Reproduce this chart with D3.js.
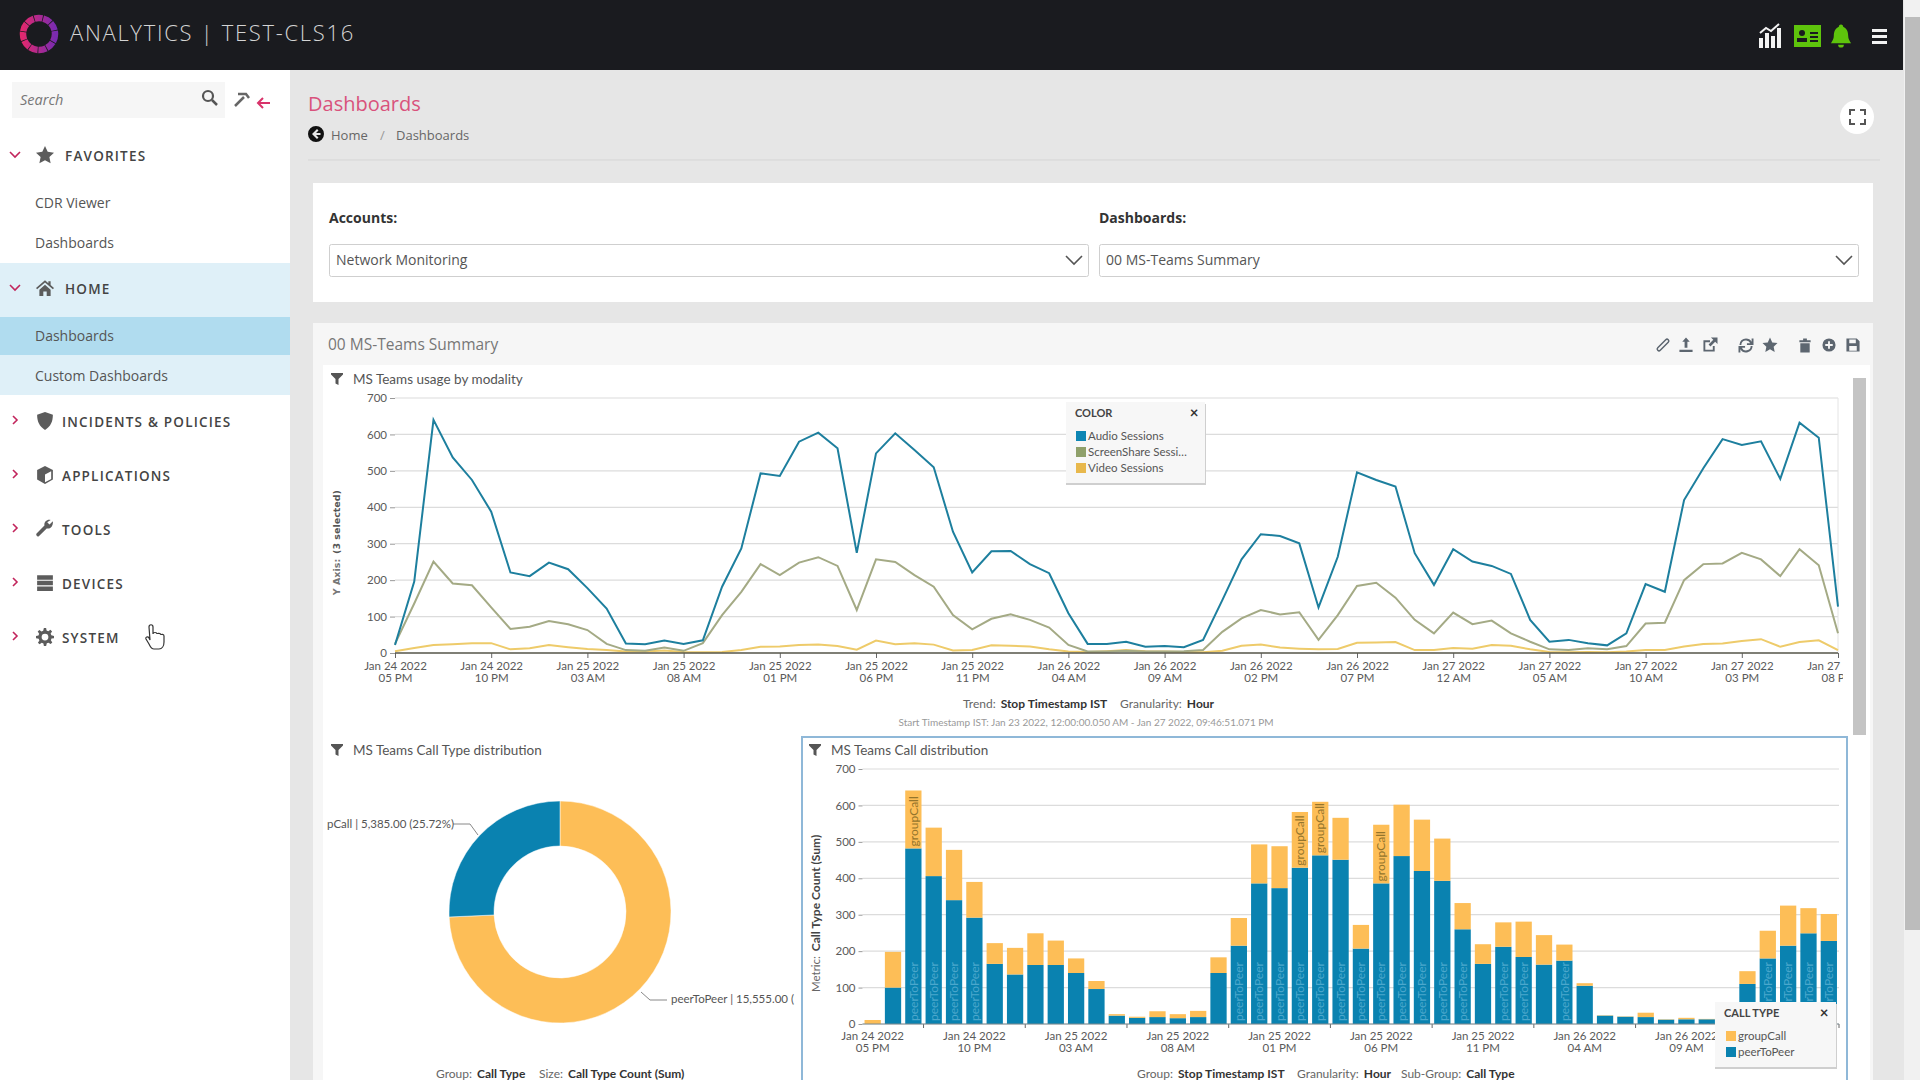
<!DOCTYPE html>
<html>
<head>
<meta charset="utf-8">
<title>Analytics | TEST-CLS16</title>
<script src="https://cdn.jsdelivr.net/npm/d3@7/dist/d3.min.js"></script>
<style>
	html, body { margin: 0; padding: 0; background: #e6e6e6; overflow: hidden; }
	svg { display: block; font-family: "Open Sans", sans-serif; }
	.chartText { font-family: Lato, sans-serif; }
	.axis path { display: none; }
	.axis text { font-family: Lato, sans-serif; font-size: 11.5px; fill: #5a5a5a; }
</style>
</head>
<body>
<div id="svgContainer"></div>
<script>

/* ---------------
Data
--------------- */
var audioSessions = [22,196,640,537,475,388,221,211,248,230,178,122,26,24,34,25,35,182,287,493,486,580,605,562,275,548,603,557,510,333,221,279,280,244,219,109,25,25,31,17,19,16,36,145,257,326,321,301,125,264,496,475,457,274,187,285,251,239,217,91,31,36,27,21,54,189,168,420,507,587,571,581,478,632,591,127];
var screenShareSessions = [25,136,251,191,186,125,66,72,88,79,63,25,8,6,15,6,27,104,168,244,214,248,263,239,118,257,250,214,182,104,65,94,106,91,70,22,4,4,6,4,4,5,8,58,95,118,106,112,36,104,184,193,152,91,54,111,79,89,54,31,10,8,13,10,19,81,83,200,244,246,275,257,211,285,241,54];
var videoSessions = [5,14,22,24,27,27,10,13,22,16,11,8,4,4,7,3,2,3,8,17,18,22,23,19,9,34,24,27,23,7,8,21,20,18,10,4,3,5,8,5,4,3,2,6,20,23,15,12,10,11,28,29,30,8,8,14,12,22,20,10,3,2,3,2,4,8,8,18,25,26,33,38,17,30,35,8];
var lineTickDates = ["Jan 24 2022","Jan 24 2022","Jan 25 2022","Jan 25 2022","Jan 25 2022","Jan 25 2022","Jan 25 2022","Jan 26 2022","Jan 26 2022","Jan 26 2022","Jan 26 2022","Jan 27 2022","Jan 27 2022","Jan 27 2022","Jan 27 2022","Jan 27 2022"];
var lineTickTimes = ["05 PM","10 PM","03 AM","08 AM","01 PM","06 PM","11 PM","04 AM","09 AM","02 PM","07 PM","12 AM","05 AM","10 AM","03 PM","08 PM"];
var yTicks = [0,100,200,300,400,500,600,700];

var peerToPeer = [0,100,482,406,340,292,165,136,162,162,140,96,23,17,19,16,19,140,215,386,373,429,463,451,207,386,461,420,393,260,165,212,184,163,174,105,23,20,19,12,13,13,13,110,180,215,249,228];
var groupCall = [11,98,159,133,138,98,57,73,87,67,40,22,4,3,16,11,17,43,76,107,115,153,147,115,65,161,141,141,116,72,54,67,97,81,44,7,1,1,12,1,4,1,1,35,76,110,69,74];
var peerLabelBars = [2,3,4,5,18,19,20,21,22,23,24,25,26,27,28,29,31,32,34,44,45,46,47];
var groupLabelBars = [2,21,22,25];
var barTickDates = ["Jan 24 2022","Jan 24 2022","Jan 25 2022","Jan 25 2022","Jan 25 2022","Jan 25 2022","Jan 25 2022","Jan 26 2022","Jan 26 2022"];
var barTickTimes = ["05 PM","10 PM","03 AM","08 AM","01 PM","06 PM","11 PM","04 AM","09 AM"];

var donutCategories = ["peerToPeer","groupCall"];
var donutValues = [15555,5385];
var donutLabels = ["peerToPeer | 15,555.00 (","pCall | 5,385.00 (25.72%)"];

var colorBlue = "#0a82b0", colorYellow = "#fdbe57";

/* ---------------
Viewport
--------------- */
var bWidth = 1920, bHeight = 1080;
var svg = d3.select("#svgContainer").append("svg")
	.attr("width", bWidth)
	.attr("height", bHeight)
	.attr("viewBox", "0 0 1920 1080");

var defs = svg.append("defs");
var logoGradient = defs.append("linearGradient").attr("id", "logoGrad");
logoGradient.append("stop").attr("offset", "0%").attr("stop-color", "#e0286f");
logoGradient.append("stop").attr("offset", "100%").attr("stop-color", "#7a2bb0");
defs.append("clipPath").attr("id", "lineClip").append("rect")
	.attr("x", 340).attr("y", 380).attr("width", 1503).attr("height", 330);

function box(x, y, w, h, fill) {
	return svg.append("rect").attr("x", x).attr("y", y).attr("width", w).attr("height", h).attr("fill", fill);
}

function label(parent, x, y, txt, size, fill, opts) {
	opts = opts || {};
	return parent.append("text")
		.attr("x", x).attr("y", y)
		.attr("dy", "0.35em")
		.attr("class", opts.chart ? "chartText" : null)
		.attr("text-anchor", opts.anchor || "start")
		.attr("font-size", size)
		.attr("font-weight", opts.weight || 400)
		.attr("font-style", opts.italic ? "italic" : null)
		.attr("letter-spacing", opts.spacing || null)
		.attr("fill", fill)
		.text(txt);
}

// crude icons, all in a 16x16 box
var icons = {
	star: "M8 0l2.4 5.2 5.6.7-4.1 3.9 1.1 5.6L8 12.6l-5 2.8 1.1-5.6L0 5.9l5.6-.7z",
	home: "M8 1L0 8l1 1 7-6 7 6 1-1-3-2.6V2h-2v1.7zM3 9.5V15h3.5v-4h3v4H13V9.5L8 5z",
	shield: "M8 0l7 2.5c0 6-2 10.500-7 13.500C3 13 1 8.500 1 2.500z",
	cube: "M8 0l7 3.500v8.500l-7 4-7-4V3.500zM8 7.500v7l5.500-3V4.700z",
	wrench: "M15 1l-3 3-2-2 3-2c-3-.8-6 1.500-5.500 4.800L.5 12c-1 1 .5 3.300 2 2.500l7-7c3 .8 6-2 5.500-6.500z",
	devices: "M1 1h14v4H1zM1 6h14v4H1zM1 11h14v4H1z",
	gear: "M7 0h2l.4 2.200 1.500.6L12.800 1.500l1.500 1.500-1.300 1.900.6 1.500L16 7v2l-2.200.4-.6 1.500 1.300 1.900-1.500 1.500-1.900-1.300-1.500.6L9 16H7l-.4-2.200-1.500-.6-1.900 1.300-1.500-1.500 1.300-1.900-.6-1.500L0 9V7l2.200-.4.6-1.500L1.500 3.200 3 1.700l1.900 1.300 1.500-.6zM8 5a3 3 0 100 6 3 3 0 000-6z",
	funnel: "M0 0h16v2L10 8v8l-4-2V8L0 2z",
	trash: "M2 3h12v2H2zM6 1h4v2H6zM3 6h10v10H3z",
	save: "M1 1h11l3 3v11H1zM4 2v4h7V2zM4 9v5h8V9z",
	bell: "M8 0c1 0 1.500.7 1.500 1.500C12 2.500 13 5 13 8c0 2 1 3.500 2 5H1c1-1.500 2-3 2-5 0-3 1-5.500 3.500-6.500C6.500.7 7 0 8 0zM6 14h4a2 2 0 01-4 0z",
	plus: "M8 1a7 7 0 100 14A7 7 0 008 1zm-1 3h2v3h3v2H9v3H7V9H4V7h3z",
	upload: "M8 0l4 4.500H9.500V11h-3V4.500H4zM1 13h14v2.500H1z",
	external: "M1 3h7v2H3v8h8V9h2v6H1zM9 0h7v7l-2.500-2.500-5 5-2-2 5-5z",
	refresh: "M8 1a7 7 0 016 3.500V1h2v7h-7V6h3.500A5 5 0 003 8H1a7 7 0 017-7zm-8 8h7v2H3.500A5 5 0 0013 9h2a7 7 0 01-13 3.500V16H0z",
	arrowLeft: "M8 0a8 8 0 110 16A8 8 0 018 0zm1 3L4 8l5 5 1.500-1.500L8 9h4.500V7H8l2.500-2.500z"
};

function icon(name, cx, cy, size, fill) {
	return svg.append("path")
		.attr("d", icons[name])
		.attr("transform", "translate(" + (cx - size / 2) + "," + (cy - size / 2) + ") scale(" + size / 16 + ")")
		.attr("fill", fill);
}

/* ---------------
Page frame
--------------- */
box(0, 0, bWidth, bHeight, "#e6e6e6");
box(0, 0, 1903, 70, "#1a1b1f");
box(1904, 0, 16, bHeight, "#f1f1f1");
box(1905, 17, 15, 913, "#bcbcbc");

svg.append("circle").attr("cx", 39).attr("cy", 34).attr("r", 16)
	.attr("fill", "none").attr("stroke", "url(#logoGrad)").attr("stroke-width", 6.500).attr("stroke-dasharray", "8 0.800");
label(svg, 70, 33, "ANALYTICS | TEST-CLS16", 22, "#d4d4d4", { spacing: "1.700px" }).attr("font-weight", 300);

// right side of the header
svg.append("g").attr("transform", "translate(1759,24)").selectAll("rect")
	.data([[0,14,4,10],[6,9,4,15],[12,12,4,12],[18,4,4,20]])
	.enter().append("rect")
	.attr("x", function(d) { return d[0]; }).attr("y", function(d) { return d[1]; })
	.attr("width", function(d) { return d[2]; }).attr("height", function(d) { return d[3]; })
	.attr("fill", "#f2f2f2");
svg.append("path").attr("d", "M1760 33l6-5 5 3 8-7").attr("stroke", "#f2f2f2").attr("stroke-width", 2).attr("fill", "none");
box(1794, 25, 27, 22, "#5ec40c");
svg.append("circle").attr("cx", 1802).attr("cy", 33).attr("r", 3).attr("fill", "#1a1b1f");
box(1797, 38, 10, 4, "#1a1b1f");
box(1810, 32, 8, 2, "#1a1b1f"); box(1810, 36, 8, 2, "#1a1b1f"); box(1810, 40, 8, 2, "#1a1b1f");
icon("bell", 1841, 36, 23, "#5ec40c");
box(1872, 29, 15, 3, "#f2f2f2"); box(1872, 35, 15, 3, "#f2f2f2"); box(1872, 41, 15, 3, "#f2f2f2");

/* ---------------
Sidebar
--------------- */
box(0, 70, 290, 1010, "#ffffff");
box(0, 263, 290, 132, "#dff0f8");
box(0, 317, 290, 38, "#b0dcef");
box(12, 82, 213, 36, "#f6f6f6");
label(svg, 20, 100, "Search", 14.500, "#777", { italic: true });
svg.append("circle").attr("cx", 208).attr("cy", 96).attr("r", 5).attr("fill", "none").attr("stroke", "#555").attr("stroke-width", 2.200);
svg.append("path").attr("d", "M212 100l5 5").attr("stroke", "#555").attr("stroke-width", 2.500);
svg.append("path").attr("d", "M235 106l9-9M238 94l8 0 3 4").attr("stroke", "#666").attr("stroke-width", 2.500).attr("fill", "none");
svg.append("path").attr("d", "M270 103h-12m5-5l-5 5 5 5").attr("stroke", "#d8336a").attr("stroke-width", 2).attr("fill", "none");

var menuTop = [
	{ t: "FAVORITES", y: 156, i: "star", open: true },
	{ t: "HOME", y: 289, i: "home", open: true },
	{ t: "INCIDENTS & POLICIES", y: 422, i: "shield" },
	{ t: "APPLICATIONS", y: 476, i: "cube" },
	{ t: "TOOLS", y: 530, i: "wrench" },
	{ t: "DEVICES", y: 584, i: "devices" },
	{ t: "SYSTEM", y: 638, i: "gear" }
];
menuTop.forEach(function(m) {
	label(svg, m.i === "star" || m.i === "home" ? 65 : 62, m.y, m.t, 13.500, "#444", { weight: 600, spacing: "1.200px" });
	icon(m.i, 45, m.y - 1, 18, "#5c5c5c");
	svg.append("path")
		.attr("d", m.open ? "M10 " + (m.y - 4) + "l5 5 5-5" : "M13 " + (m.y - 6) + "l4 4-4 4")
		.attr("stroke", "#c2255c").attr("stroke-width", 1.600).attr("fill", "none");
});
[["CDR Viewer",203],["Dashboards",243],["Dashboards",336],["Custom Dashboards",376]].forEach(function(m) {
	label(svg, 35, m[1], m[0], 14, "#555");
});

// hand cursor
svg.append("path")
	.attr("transform", "translate(-3,0)")
	.attr("d", "M152 627c0-3 4-3 4 0v7c0-2 4-2 4 0 0-1 4-1 4 1 0-1 3-1 3 1v6c0 4-2 7-5 7h-5c-3 0-4-3-5-5l-3-5c-1-2 2-3 3-1l1 2z")
	.attr("fill", "#fff").attr("stroke", "#333").attr("stroke-width", 1.200);

/* ---------------
Page heading and selectors
--------------- */
label(svg, 308, 104, "Dashboards", 20, "#d9527c");
icon("arrowLeft", 316, 134, 16, "#111");
label(svg, 331, 135, "Home", 13, "#666");
label(svg, 380, 135, "/", 13, "#999");
label(svg, 396, 135, "Dashboards", 13, "#666");
svg.append("line").attr("x1", 308).attr("x2", 1880).attr("y1", 160).attr("y2", 160).attr("stroke", "#d5d5d5");
svg.append("circle").attr("cx", 1857).attr("cy", 117).attr("r", 17).attr("fill", "#fff");
svg.append("path").attr("d", "M1852 116v-5h5M1862 111h5v5M1867 120v5h-5M1857 125h-5v-5").attr("transform", "translate(-2,-1)")
	.attr("stroke", "#555").attr("stroke-width", 2).attr("fill", "none");

box(313, 183, 1560, 119, "#ffffff");
label(svg, 329, 218, "Accounts:", 14, "#333", { weight: 700 });
label(svg, 1099, 218, "Dashboards:", 14, "#333", { weight: 700 });
[[329,759,"Network Monitoring"],[1099,759,"00 MS-Teams Summary"]].forEach(function(s) {
	svg.append("rect").attr("x", s[0] + 0.500).attr("y", 244.500).attr("width", s[1]).attr("height", 32)
		.attr("fill", "#fff").attr("stroke", "#cfcfcf").attr("rx", 2);
	label(svg, s[0] + 7, 260, s[2], 14, "#555");
	svg.append("path").attr("d", "M" + (s[0] + s[1] - 22) + " 256l8 8 8-8").attr("stroke", "#555").attr("stroke-width", 1.600).attr("fill", "none");
});

/* ---------------
Dashboard panel
--------------- */
box(313, 323, 1560, 757, "#f6f6f6");
box(323, 365, 1547, 715, "#ffffff");
box(1853, 378, 13, 357, "#c4c4c4");
label(svg, 328, 345, "00 MS-Teams Summary", 15.500, "#777");
[["upload",1686],["external",1710],["refresh",1746],["star",1770],["trash",1805],["plus",1829],["save",1853]].forEach(function(b) {
	icon(b[0], b[1], 345, 15, "#5d6670");
});
// link icon
svg.append("path").attr("d", "M1659 349l8-8").attr("stroke", "#5d6670").attr("stroke-width", 5).attr("stroke-linecap", "round");
svg.append("path").attr("d", "M1659 349l8-8").attr("stroke", "#f6f6f6").attr("stroke-width", 2).attr("stroke-linecap", "round");

function chartTitle(x, y, txt) {
	icon("funnel", x, y, 12, "#555");
	label(svg, x + 16, y, txt, 13.500, "#555", { chart: true });
}

// small helper for the two line date/time tick labels
function twoLineTicks(axisG, dates, times) {
	axisG.selectAll(".tick text").each(function(d, i) {
		var t = d3.select(this).text(null);
		t.append("tspan").attr("x", 0).attr("dy", "0.71em").text(dates[i]);
		t.append("tspan").attr("x", 0).attr("dy", "1.05em").text(times[i]);
	});
}

function footerLabel(y, parts) {
	var t = svg.append("text").attr("class", "chartText").attr("y", y).attr("dy", "0.35em").attr("font-size", 12);
	parts.forEach(function(p, i) {
		t.append("tspan").attr("x", p.x).attr("fill", "#666").text(p.k);
		t.append("tspan").attr("dx", 5).attr("fill", "#333").attr("font-weight", 700).text(p.v);
	});
}

/* ---------------
MS Teams usage by modality
--------------- */
chartTitle(337, 379, "MS Teams usage by modality");

var lineX = d3.scaleLinear().domain([0, 75]).range([395, 1838]);
var lineY = d3.scaleLinear().domain([0, 700]).range([653, 398]);

svg.append("g").selectAll("line").data(yTicks).enter().append("line")
	.attr("x1", lineX(0)).attr("x2", lineX(75))
	.attr("y1", function(d) { return lineY(d); }).attr("y2", function(d) { return lineY(d); })
	.attr("stroke", "#dcdcdc").attr("stroke-width", 1.200);
svg.append("line").attr("x1", lineX(75)).attr("x2", lineX(75)).attr("y1", lineY(700)).attr("y2", lineY(0)).attr("stroke", "#e4e4e4");

svg.append("g").attr("class", "axis").attr("transform", "translate(" + lineX(0) + ",0)")
	.call(d3.axisLeft(lineY).tickValues(yTicks).tickSize(5).tickPadding(3))
	.selectAll("line").attr("stroke", "#999");

var lineAxis = svg.append("g").attr("class", "axis").attr("clip-path", "url(#lineClip)")
	.append("g").attr("transform", "translate(0," + lineY(0) + ")")
	.call(d3.axisBottom(lineX).tickValues(d3.range(0, 76, 5)).tickSize(5).tickPadding(4));
lineAxis.selectAll("line").attr("stroke", "#666");
twoLineTicks(lineAxis, lineTickDates, lineTickTimes);

var lineSeries = [
	{ values: videoSessions, color: "#eecb6a" },
	{ values: screenShareSessions, color: "#a4aa85" },
	{ values: audioSessions, color: "#1d7f9e" }
];
var linePath = d3.line()
	.x(function(d, i) { return lineX(i); })
	.y(function(d) { return lineY(d); });
svg.append("g").selectAll("path").data(lineSeries).enter().append("path")
	.attr("d", function(d) { return linePath(d.values); })
	.attr("fill", "none")
	.attr("stroke", function(d) { return d.color; })
	.attr("stroke-width", 2);
svg.append("line").attr("x1", lineX(0)).attr("x2", lineX(75)).attr("y1", lineY(0)).attr("y2", lineY(0)).attr("stroke", "#5a5a4e").attr("stroke-width", 1.300);

label(svg, 0, 0, "Y Axis:", 9.500, "#777", { weight: 700 }).attr("font-family", "DejaVu Sans").attr("transform", "translate(337,577) rotate(-90)").attr("text-anchor", "middle");
label(svg, 0, 0, "(3 selected)", 9.500, "#555", { weight: 700 }).attr("font-family", "DejaVu Sans").attr("transform", "translate(337,522) rotate(-90)").attr("text-anchor", "middle");

footerLabel(704, [{ x: 963, k: "Trend:", v: "Stop Timestamp IST" }, { x: 1120, k: "Granularity:", v: "Hour" }]);
label(svg, 1086, 722, "Start Timestamp IST: Jan 23 2022, 12:00:00.050 AM - Jan 27 2022, 09:46:51.071 PM", 10, "#999", { chart: true, anchor: "middle" });

function legendBox(x, y, w, h, title, closeX, items, textX, swatchX) {
	svg.append("rect").attr("x", x).attr("y", y + 2).attr("width", w + 1).attr("height", h).attr("fill", "#cfcfcf");
	svg.append("rect").attr("x", x).attr("y", y).attr("width", w).attr("height", h).attr("fill", "#f7f7f7");
	label(svg, x + 9, y + 11, title, 11, "#444", { chart: true, weight: 700 });
	label(svg, closeX, y + 11, "×", 15, "#333", { chart: true, weight: 700, anchor: "middle" });
	items.forEach(function(it) {
		svg.append("rect").attr("x", swatchX).attr("y", it.y - 5).attr("width", 10).attr("height", 10).attr("fill", it.c);
		label(svg, textX, it.y, it.t, 11.500, "#555", { chart: true });
	});
}
legendBox(1066, 402, 139, 81, "COLOR", 1194, [
	{ t: "Audio Sessions", y: 436, c: "#0e86b4" },
	{ t: "ScreenShare Sessi…", y: 452, c: "#8fa06a" },
	{ t: "Video Sessions", y: 468, c: "#e8b84c" }
], 1088, 1076);

/* ---------------
MS Teams Call Type distribution
--------------- */
chartTitle(337, 750, "MS Teams Call Type distribution");

var pie = d3.pie().sort(null)(donutValues);
var arc = d3.arc().innerRadius(66).outerRadius(111);
svg.append("g").attr("transform", "translate(560,912)")
	.selectAll("path").data(pie).enter().append("path")
	.attr("d", arc)
	.attr("fill", function(d, i) { return i === 0 ? colorYellow : colorBlue; })
	.attr("stroke", "#fff").attr("stroke-width", 0.500);

svg.append("path").attr("d", "M453 824h17l8 11").attr("stroke", "#888").attr("fill", "none");
svg.append("path").attr("d", "M641 992l9 8h17").attr("stroke", "#888").attr("fill", "none");
label(svg, 327, 824, donutLabels[1], 11.500, "#555", { chart: true });
label(svg, 671, 999, donutLabels[0], 11.500, "#555", { chart: true });

footerLabel(1074, [{ x: 436, k: "Group:", v: "Call Type" }, { x: 539, k: "Size:", v: "Call Type Count (Sum)" }]);

/* ---------------
MS Teams Call distribution
--------------- */
svg.append("rect").attr("x", 802).attr("y", 737).attr("width", 1045).attr("height", 350)
	.attr("fill", "#fff").attr("stroke", "#8fb8d8").attr("stroke-width", 2);
chartTitle(815, 750, "MS Teams Call distribution");

var barX = d3.scaleBand().domain(d3.range(peerToPeer.length)).range([862.500, 1839]).paddingInner(0.2).paddingOuter(0.1);
var barY = d3.scaleLinear().domain([0, 700]).range([1024, 769]);

svg.append("g").selectAll("line").data(yTicks).enter().append("line")
	.attr("x1", 862.500).attr("x2", 1839)
	.attr("y1", function(d) { return barY(d); }).attr("y2", function(d) { return barY(d); })
	.attr("stroke", "#dcdcdc").attr("stroke-width", 1.200);

svg.append("g").attr("class", "axis").attr("transform", "translate(862.500,0)")
	.call(d3.axisLeft(barY).tickValues(yTicks).tickSize(4).tickPadding(3))
	.selectAll("line").attr("stroke", "#999");

var barGroups = svg.append("g").selectAll("g").data(peerToPeer).enter().append("g");
barGroups.append("rect")
	.attr("x", function(d, i) { return barX(i); })
	.attr("y", function(d) { return barY(d); })
	.attr("width", barX.bandwidth())
	.attr("height", function(d) { return barY(0) - barY(d); })
	.attr("fill", colorBlue);
barGroups.append("rect")
	.attr("x", function(d, i) { return barX(i); })
	.attr("y", function(d, i) { return barY(d + groupCall[i]); })
	.attr("width", barX.bandwidth())
	.attr("height", function(d, i) { return barY(0) - barY(groupCall[i]); })
	.attr("fill", colorYellow);

svg.append("g").selectAll("text").data(peerLabelBars).enter().append("text")
	.attr("class", "chartText")
	.attr("transform", function(d) { return "translate(" + (barX(d) + barX.bandwidth() / 2) + "," + (barY(0) - 3) + ") rotate(-90)"; })
	.attr("dy", "0.35em").attr("font-size", 12).attr("fill", "#4ba7cc")
	.text("peerToPeer");
svg.append("g").selectAll("text").data(groupLabelBars).enter().append("text")
	.attr("class", "chartText")
	.attr("transform", function(d) { return "translate(" + (barX(d) + barX.bandwidth() / 2) + "," + (barY(peerToPeer[d]) - 2) + ") rotate(-90)"; })
	.attr("dy", "0.35em").attr("font-size", 12).attr("fill", "#94752c")
	.text("groupCall");

var barLabelAxis = svg.append("g").attr("class", "axis").attr("transform", "translate(0," + barY(0) + ")")
	.call(d3.axisBottom(barX).tickValues(d3.range(0, 41, 5)).tickSize(0).tickPadding(8));
twoLineTicks(barLabelAxis, barTickDates, barTickTimes);
barLabelAxis.selectAll(".tick line").remove();

// the tick marks sit half way between the labels
svg.append("g").attr("class", "axis")
	.attr("transform", "translate(" + (barX.step() * 2.5) + "," + barY(0) + ")")
	.call(d3.axisBottom(barX).tickValues(d3.range(0, 46, 5)).tickSize(4).tickFormat(""))
	.selectAll("line").attr("stroke", "#666");
svg.append("line").attr("x1", 862.500).attr("x2", 1839).attr("y1", barY(0)).attr("y2", barY(0)).attr("stroke", "#7a8a90");

label(svg, 0, 0, "Metric:", 11.500, "#666", { chart: true }).attr("transform", "translate(816,974) rotate(-90)").attr("text-anchor", "middle");
label(svg, 0, 0, "Call Type Count (Sum)", 12, "#444", { chart: true, weight: 700 }).attr("transform", "translate(816,893) rotate(-90)").attr("text-anchor", "middle");

footerLabel(1074, [{ x: 1137, k: "Group:", v: "Stop Timestamp IST" }, { x: 1297, k: "Granularity:", v: "Hour" }, { x: 1401, k: "Sub-Group:", v: "Call Type" }]);

legendBox(1715, 1002, 121, 65, "CALL TYPE", 1824, [
	{ t: "groupCall", y: 1036, c: colorYellow },
	{ t: "peerToPeer", y: 1052, c: colorBlue }
], 1738, 1726);

</script>
</body>
</html>
